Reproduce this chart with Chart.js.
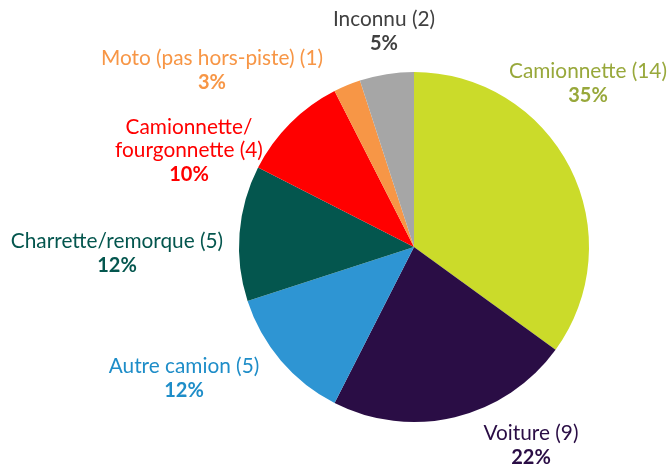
<!DOCTYPE html>
<html><head><meta charset="utf-8">
<script src="https://cdn.jsdelivr.net/npm/chart.js@4/dist/chart.umd.min.js"></script>
<style>html,body{margin:0;padding:0;background:#fff;}#wrap{width:670px;height:466px;position:relative;}</style>
</head><body><div id="wrap"><canvas id="c" width="670" height="466"></canvas></div>
<script>
const categories = [["Camionnette (14)"], ["Voiture (9)"], ["Autre camion (5)"], ["Charrette/remorque (5)"], ["Camionnette/", "fourgonnette (4)"], ["Moto (pas hors-piste) (1)"], ["Inconnu (2)"]];
const counts = [14, 9, 5, 5, 4, 1, 2];
const percentLabels = ["35%", "22%", "12%", "12%", "10%", "3%", "5%"];
const sliceColors = ["#CBDB2A", "#2A0D45", "#2E95D3", "#04564E", "#FF0000", "#F79646", "#A6A6A6"];
const labelColors = ["#98A83B", "#2A0D45", "#1E8DC8", "#04564E", "#FF0000", "#F79646", "#404040"];
// label anchor layout (center x, top line center y)
const labelPos = [[588, 71], [531, 433], [184, 366], [117, 241], [189, 127], [212, 58], [384, 19]];

const FONT = "'Source Sans Pro', Lato, 'Noto Sans', sans-serif";
const labelPlugin = {
  id: 'outLabels',
  afterDraw(chart) {
    const ctx = chart.ctx;
    ctx.save();
    ctx.textAlign = 'center';
    ctx.textBaseline = 'middle';
    categories.forEach((lines, i) => {
      const [x, y] = labelPos[i];
      ctx.fillStyle = labelColors[i];
      ctx.font = "20.8px " + FONT;
      lines.forEach((t, j) => ctx.fillText(t, x, y + j * 23.5));
      ctx.font = "bold 20px " + FONT;
      ctx.fillText(percentLabels[i], x, y + lines.length * 23.5 + 1);
    });
    ctx.restore();
  }
};

new Chart(document.getElementById('c'), {
  type: 'pie',
  data: {
    labels: categories.map(l => l.join(' ')),
    datasets: [{ data: counts, backgroundColor: sliceColors, borderWidth: 0 }]
  },
  options: {
    responsive: false,
    animation: false,
    layout: { padding: { left: 239, right: 81, top: 72, bottom: 44 } },
    plugins: { legend: { display: false }, tooltip: { enabled: false } }
  },
  plugins: [labelPlugin]
});
</script></body></html>
